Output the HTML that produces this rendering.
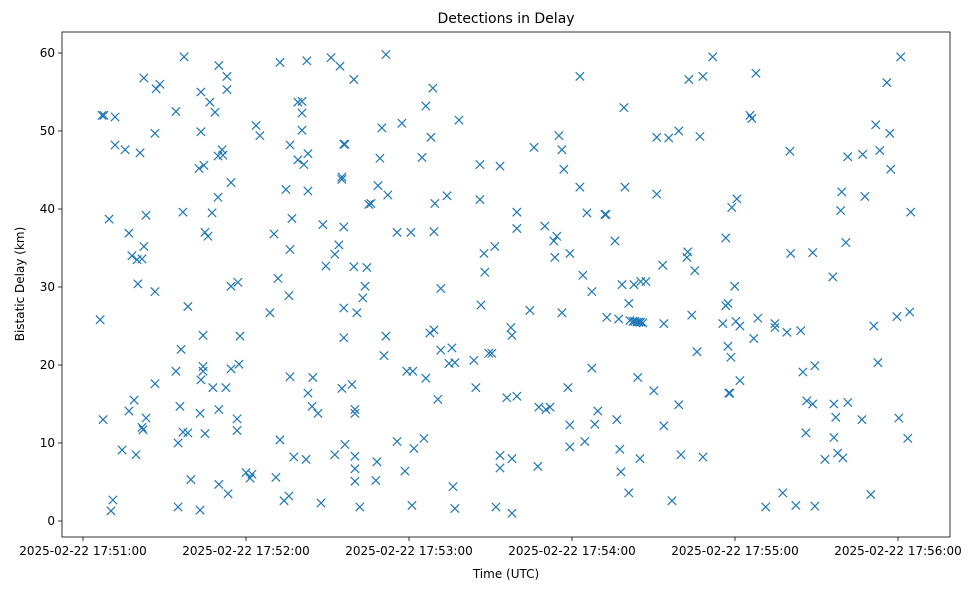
<!DOCTYPE html>
<html><head><meta charset="utf-8">
<style>
html,body{margin:0;padding:0;background:#fff;}
svg text{font-family:"DejaVu Sans","Liberation Sans",sans-serif;fill:#000;}
</style></head>
<body>
<svg id="chart" width="979" height="590" xmlns="http://www.w3.org/2000/svg">
<rect width="979" height="590" fill="#fff"/>
<text x="506" y="23" font-size="14" text-anchor="middle">Detections in Delay</text>
<text x="506" y="578" font-size="12" text-anchor="middle">Time (UTC)</text>
<text x="0" y="0" font-size="12" text-anchor="middle" transform="translate(24,284) rotate(-90)">Bistatic Delay (km)</text>
<g id="ticks"></g>
<g id="marks"></g>
<rect x="62" y="32" width="888" height="505" fill="none" stroke="#000" stroke-width="0.8"/>
</svg>
<script>
// seconds since 2025-02-22 17:51:00
const times = [6.3,7.0,7.7,7.4,9.6,10.3,11.0,11.8,11.8,14.4,15.5,16.9,16.9,18.0,18.8,19.5,19.9,20.2,21.0,21.7,21.7,22.1,22.4,22.4,23.2,23.2,26.5,26.5,26.5,26.9,28.3,34.2,34.2,35.0,35.0,35.7,36.1,36.8,36.8,37.2,38.6,38.6,39.7,42.7,43.1,43.1,43.4,43.4,43.4,44.2,44.2,44.2,44.5,44.9,44.9,46.0,46.7,47.5,47.8,48.6,49.7,49.7,50.0,50.0,50.0,51.2,51.5,52.6,53.0,53.0,53.4,54.5,54.5,54.5,56.7,56.7,57.0,57.4,57.8,60.0,61.5,62.2,63.7,65.1,68.8,70.3,71.0,71.8,72.5,72.5,74.0,74.7,75.8,75.8,76.2,76.2,76.2,76.9,77.6,79.1,79.1,80.6,80.6,80.6,81.3,82.1,82.4,82.8,82.8,82.8,84.3,84.6,86.5,87.6,88.3,89.4,91.3,92.7,92.7,94.2,94.6,95.3,95.3,95.3,96.0,96.0,96.0,96.0,96.4,96.4,99.0,99.7,99.7,100.1,100.1,100.1,100.1,100.1,100.8,101.9,103.0,103.8,104.5,105.2,106.0,107.8,108.2,108.6,109.3,110.0,110.8,111.5,111.5,112.2,115.6,115.6,117.4,118.5,119.2,120.7,121.1,121.4,121.8,124.8,125.5,126.2,126.2,127.7,128.1,128.8,129.2,129.2,129.5,130.6,131.7,131.7,134.0,134.7,135.8,136.2,136.9,136.9,138.4,143.9,144.6,146.1,146.1,146.5,147.6,147.9,149.4,150.5,151.6,152.0,153.5,153.5,153.5,156.0,157.5,157.9,157.9,157.9,159.7,159.7,159.7,164.5,166.0,167.4,167.8,170.0,170.4,171.9,173.3,173.7,174.4,175.2,176.3,176.3,177.0,178.5,179.2,179.2,179.2,182.9,182.9,184.0,184.7,185.5,187.3,187.3,188.4,189.5,192.1,192.5,192.8,195.8,196.5,197.2,197.6,198.0,198.4,199.1,199.5,200.9,200.9,201.3,202.4,202.8,203.1,203.9,204.2,204.6,205.0,205.3,205.3,206.1,207.2,210.1,211.2,211.2,213.4,213.8,213.8,215.6,216.8,219.3,219.3,220.1,222.3,222.6,223.0,224.1,225.2,226.0,227.1,228.2,228.2,231.8,235.5,236.6,236.6,237.4,237.4,237.7,238.1,238.5,238.8,239.9,240.3,240.7,241.8,241.8,245.5,246.2,246.9,247.7,248.4,251.3,254.7,254.7,257.6,259.1,260.2,260.5,262.4,264.2,265.0,266.1,266.4,268.6,268.6,269.4,269.4,273.1,276.0,276.4,276.4,277.1,277.8,278.9,279.3,279.7,280.8,281.5,281.5,286.7,287.0,287.8,290.0,291.1,291.8,292.6,293.3,295.9,297.0,297.3,299.6,300.3,301.0,303.6,304.3,304.7];
const delays = [25.8,52,52,13,38.7,1.3,2.7,51.8,48.2,9.1,47.6,14.1,36.9,34,15.5,8.5,33.5,30.4,47.2,33.6,12,11.7,56.8,35.2,13.2,39.2,49.7,29.4,17.6,55.4,56,52.5,19.2,10,1.8,14.7,22,11.4,39.6,59.5,27.5,11.3,5.3,45.2,13.8,1.4,55,49.9,18.1,23.8,19.8,19.2,45.6,11.2,37,36.5,53.7,39.5,17.1,52.4,46.8,41.5,58.4,14.3,4.7,47.6,46.9,17.1,57,55.3,3.5,19.5,43.4,30.1,13.1,11.6,30.6,20.1,23.7,6.2,5.5,6,50.7,49.4,26.7,36.8,5.6,31.1,10.4,58.8,2.6,42.5,3.2,28.9,48.2,18.5,34.8,38.8,8.2,46.3,53.7,53.8,52.3,50.1,45.7,7.9,59,16.4,47.1,42.3,14.7,18.4,13.8,2.3,38,32.7,59.4,34.2,8.5,35.4,58.3,17,43.8,44.1,23.5,27.3,37.7,48.3,48.3,9.8,17.5,32.6,56.6,14.3,13.8,8.3,6.7,5.1,26.7,1.8,28.6,30.1,32.5,40.6,40.7,5.2,7.6,43,46.5,50.4,21.2,59.8,23.7,41.8,37,10.2,51,6.4,19.2,37,2,19.2,9.3,46.6,10.6,53.2,18.3,24.1,49.2,55.5,37.1,24.5,40.7,15.6,29.8,21.9,41.7,20.2,22.2,4.4,20.3,1.6,51.4,20.6,17.1,41.2,45.7,27.7,34.3,31.9,21.5,21.5,35.2,1.8,8.4,6.8,45.5,15.8,24.8,1,8,23.8,39.6,37.5,16,27,47.9,7,14.6,37.8,14.3,14.6,35.9,33.8,36.5,49.4,26.7,47.6,45.1,17.1,9.5,12.3,34.3,57,42.8,31.5,10.2,39.5,29.4,19.6,12.4,14.1,39.3,39.3,26.1,35.9,13,25.9,9.2,6.3,30.3,53,42.8,3.6,27.9,25.7,25.6,30.3,25.6,25.5,18.4,25.5,8,25.5,30.7,25.4,30.7,16.7,49.2,41.9,32.8,25.3,12.2,49.1,2.6,50,14.9,8.5,33.8,34.5,56.6,26.4,32.1,21.7,49.3,57,8.2,59.5,25.3,36.3,27.6,27.9,22.4,16.4,16.4,21,40.2,30.1,25.6,41.3,18,25,52,51.6,23.4,57.4,26,1.8,25.3,24.8,3.6,24.2,47.4,34.3,2,24.4,19.1,11.3,15.4,34.4,15,19.9,1.9,7.9,31.3,15,10.7,13.3,8.7,39.8,42.2,8.1,35.7,46.7,15.2,13,47,41.6,3.4,25,50.8,20.3,47.5,56.2,49.7,45.1,26.2,13.2,59.5,10.6,26.8,39.6];
const xTickSecs = [0,60,120,180,240,300];
const xTickLabels = ["2025-02-22 17:51:00","2025-02-22 17:52:00","2025-02-22 17:53:00","2025-02-22 17:54:00","2025-02-22 17:55:00","2025-02-22 17:56:00"];
const yTicks = [0,10,20,30,40,50,60];

const NS="http://www.w3.org/2000/svg";
function xs(t){return 83+t*(163/60);}
function ys(d){return 521-d*7.8;}
const tg=document.getElementById('ticks');
function mk(tag,attrs,parent){const e=document.createElementNS(NS,tag);for(const k in attrs)e.setAttribute(k,attrs[k]);parent.appendChild(e);return e;}
xTickSecs.forEach((s,i)=>{
  const x=xs(s);
  const l=mk('line',{x1:x,x2:x,y1:537,y2:541,stroke:'#000','stroke-width':0.8},tg);
  
  
  const t=mk('text',{x:x,y:555,'font-size':12,'text-anchor':'middle'},tg);
  t.textContent=xTickLabels[i];
  
  
});
yTicks.forEach(v=>{
  const y=ys(v);
  const l=mk('line',{x1:58,x2:62,y1:y,y2:y,stroke:'#000','stroke-width':0.8},tg);
  
  
  const t=mk('text',{x:55,y:y+4,'font-size':12,'text-anchor':'end'},tg);
  t.textContent=v;
  
  
});
const mg=document.getElementById('marks');
const r=4.2;
times.forEach((t,i)=>{
  const x=xs(t),y=ys(delays[i]);
  const p=mk('path',{d:`M${x-r},${y-r}L${x+r},${y+r}M${x-r},${y+r}L${x+r},${y-r}`,stroke:'#1f77b4','stroke-width':1.2,fill:'none'},mg);
  
  
});
</script>
</body></html>
